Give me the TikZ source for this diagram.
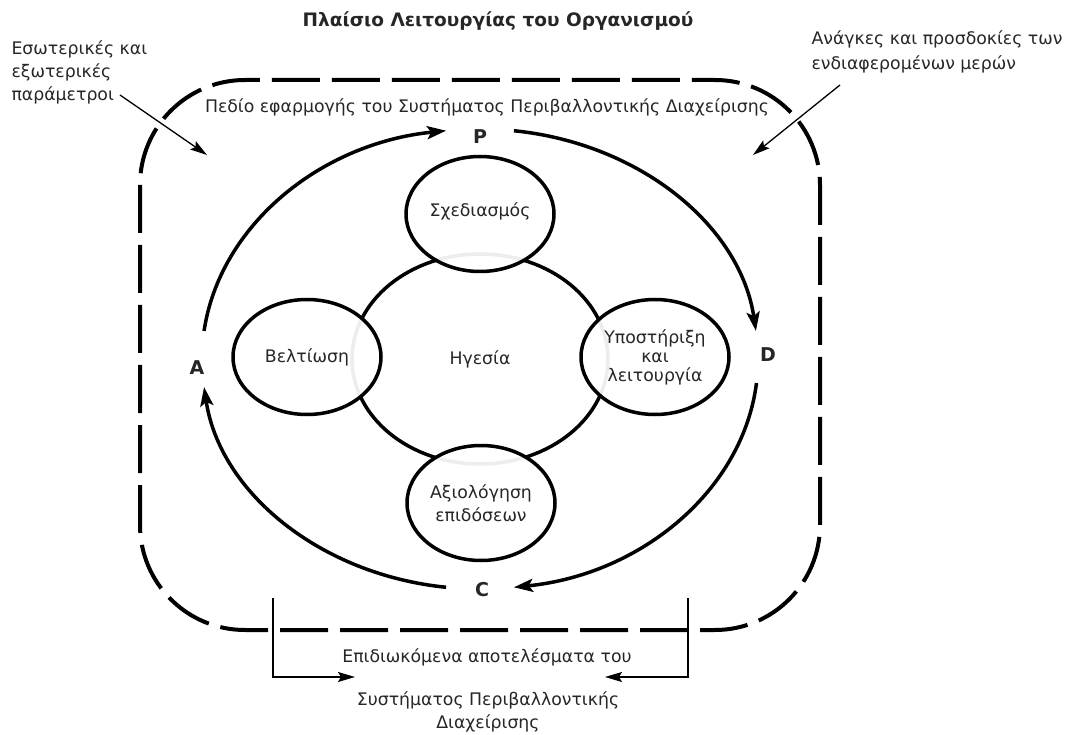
\documentclass[tikz,border=0pt]{standalone}
\usepackage{fontspec}
\setmainfont{DejaVu Sans}
\usetikzlibrary{arrows.meta,shapes.geometric}
\tikzset{
  lbl/.style={font=\fontsize{17.3}{23}\selectfont,text=black!85},
  stage/.style={draw,ellipse,line width=3.5pt,fill=white,fill opacity=0.93,text opacity=1,
    minimum width=148pt,minimum height=115pt,inner sep=0pt,align=center,lbl},
  cyc/.style={line width=3.5pt,-{Stealth[length=19pt,width=13pt,inset=4pt]}},
  note/.style={line width=1.3pt,-{Stealth[length=17pt,width=10pt,inset=3pt]}},
  pdca/.style={font=\fontsize{19}{22}\selectfont\bfseries,text=black!85}
}
\begin{document}
\begin{tikzpicture}[x=1pt,y=-1pt]
    \useasboundingbox (0,0) rectangle (1066,735);
    \draw[line width=4pt,dash pattern=on 48pt off 12pt,rounded corners=105pt] (140,80) rectangle (820,630);
    \node[lbl,font=\fontsize{18.5}{22}\selectfont\bfseries] (title) at (498,21) {Πλαίσιο Λειτουργίας του Οργανισμού};
    \node[lbl,align=left,anchor=north west] (inparams) at (8,37) {Εσωτερικές και\\εξωτερικές\\παράμετροι};
    \node[lbl,align=left,font=\fontsize{17.3}{25}\selectfont,anchor=north west] (needs) at (808,27) {Ανάγκες και προσδοκίες των\\ενδιαφερομένων μερών};
    \node[lbl] (scope) at (487,107) {Πεδίο εφαρμογής του Συστήματος Περιβαλλοντικής Διαχείρισης};
    \coordinate (ctr) at (480,359);
    \draw[line width=3.5pt] (ctr) ellipse[x radius=128,y radius=105];
    \node[stage] (plan) at (480,214) {\raisebox{8pt}{Σχεδιασμός}};
    \node[stage] (improve) at (307,357) {Βελτίωση};
    \node[stage,font=\fontsize{17.3}{19}\selectfont] (support) at (655,357) {Υποστήριξη\\και\\λειτουργία};
    \node[stage] (evaluate) at (481,503) {Αξιολόγηση\\επιδόσεων};
    \node[lbl] (lead) at (ctr) {Ηγεσία};
    \foreach \s/\e in {-173/-97,-83/-7,6/83,97/173}
        \draw[cyc] ([shift={(\s:278 and 230)}]ctr) arc[start angle=\s,end angle=\e,x radius=278,y radius=230];
    \node[pdca] (P) at (480,137) {P};
    \node[pdca] (D) at (768,355) {D};
    \node[pdca] (C) at (482,590) {C};
    \node[pdca] (A) at (197,368) {A};
    \coordinate (inparams-from) at (120,95);
    \coordinate (inparams-to) at (207,155);
    \coordinate (needs-from) at (840,85);
    \coordinate (needs-to) at (753,155);
    \draw[note] (inparams-from) -- (inparams-to);
    \draw[note] (needs-from) -- (needs-to);
    \coordinate (res-l) at (273,598);
    \coordinate (res-l-to) at (355,677);
    \coordinate (res-r) at (688,598);
    \coordinate (res-r-to) at (605,677);
    \draw[note] (res-l) |- (res-l-to);
    \draw[note] (res-r) |- (res-r-to);
    \node[lbl] (results) at (487,657) {Επιδιωκόμενα αποτελέσματα του};
    \node[lbl,align=center,anchor=north] (results2) at (488,688) {Συστήματος Περιβαλλοντικής\\Διαχείρισης};
\end{tikzpicture}
\end{document}
